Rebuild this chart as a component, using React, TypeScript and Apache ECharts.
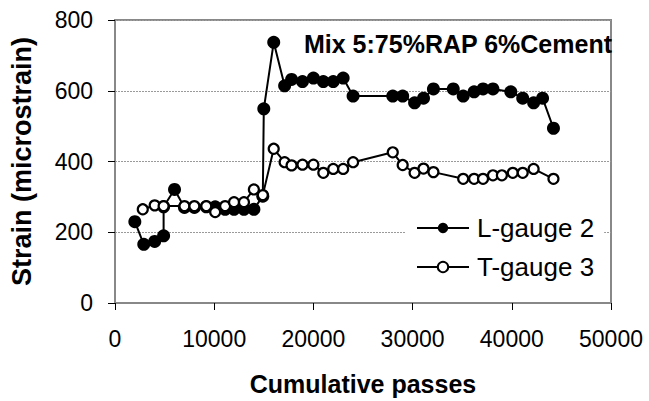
import React, { useEffect, useRef } from "react";
import * as echarts from "echarts";

// Cumulative passes vs strain, L-gauge 2 (filled) and T-gauge 3 (open)
const lGaugePasses = [
  2000, 2900, 4000, 4900, 4900, 6000, 7000, 8000, 9200, 10100, 11100, 12000, 13000, 14000,
  14900, 15000, 16000, 17100, 17800, 18900, 20000, 21000, 22000, 23000, 24000, 28000, 29000,
  30200, 31100, 32100, 34100, 35100, 36200, 37100, 38100, 39900, 41100, 42200, 43100, 44200,
];
const lGaugeStrain = [
  230, 166, 174, 190, 272, 321, 270, 270, 272, 272, 265, 265, 265, 265,
  302, 549, 737, 614, 632, 626, 636, 626, 626, 636, 585, 585, 585,
  566, 579, 605, 605, 585, 597, 605, 605, 597, 579, 566, 579, 494,
];

const tGaugePasses = [
  2800, 4000, 4900, 7000, 8000, 9200, 10100, 11100, 12000, 13000, 14000, 14900, 16000, 17100,
  17800, 18900, 20000, 21000, 22000, 23000, 24000, 28000, 29000, 30200, 31100, 32100, 35100,
  36200, 37100, 38100, 39000, 40100, 41100, 42200, 44200,
];
const tGaugeStrain = [
  265, 276, 274, 274, 274, 274, 257, 274, 285, 285, 321, 305, 436, 398,
  389, 391, 391, 368, 379, 379, 398, 426, 390, 368, 380, 370, 351,
  351, 351, 361, 361, 368, 368, 379, 351,
];

const xTicks = [0, 10000, 20000, 30000, 40000, 50000];
const yTicks = [0, 200, 400, 600, 800];

const FONT = "Liberation Sans, Arial, sans-serif";

export default function App() {
  const ref = useRef<HTMLDivElement>(null);

  useEffect(() => {
    if (!ref.current) return;
    const chart = echarts.init(ref.current, null, { renderer: "svg" });
    const pair = (xs: number[], ys: number[]) => xs.map((x, i) => [x, ys[i]]);

    chart.setOption({
      animation: false,
      backgroundColor: "#ffffff",
      textStyle: { fontFamily: FONT, color: "#000" },
      title: {
        text: "Mix 5:75%RAP 6%Cement",
        left: 304,
        top: 31,
        padding: 0,
        textStyle: { fontFamily: FONT, fontSize: 25, fontWeight: "bold", color: "#000" },
      },
      grid: {
        left: 113,
        top: 20,
        right: 38,
        bottom: 97,
        show: true,
        borderColor: "#888888",
        borderWidth: 2,
        backgroundColor: "transparent",
      },
      legend: {
        orient: "vertical",
        left: 406,
        top: 207,
        padding: [8, 10, 8, 10],
        backgroundColor: "#ffffff",
        itemWidth: 52,
        itemHeight: 13,
        itemGap: 13,
        textStyle: { fontFamily: FONT, fontSize: 26, color: "#000", padding: [0, 0, 0, 3] },
        data: ["L-gauge 2", "T-gauge 3"],
      },
      xAxis: {
        type: "value",
        min: xTicks[0],
        max: xTicks[xTicks.length - 1],
        interval: 10000,
        name: "Cumulative passes",
        nameLocation: "middle",
        nameGap: 68,
        nameTextStyle: { fontFamily: FONT, fontSize: 25, fontWeight: "bold", color: "#000" },
        axisLine: { show: true, lineStyle: { color: "#888888", width: 2 } },
        axisTick: { show: true, inside: false, length: 7, lineStyle: { color: "#000", width: 1 } },
        axisLabel: {
          fontFamily: FONT,
          fontSize: 23,
          color: "#000",
          margin: 24,
          formatter: (v: number) => String(v),
        },
        splitLine: { show: false },
      },
      yAxis: {
        type: "value",
        min: yTicks[0],
        max: yTicks[yTicks.length - 1],
        interval: 200,
        name: "Strain (microstrain)",
        nameLocation: "middle",
        nameGap: 80,
        nameTextStyle: { fontFamily: FONT, fontSize: 27, fontWeight: "bold", color: "#000" },
        axisLine: { show: true, lineStyle: { color: "#888888", width: 2 } },
        axisTick: { show: true, inside: false, length: 7, lineStyle: { color: "#000", width: 1 } },
        axisLabel: {
          fontFamily: FONT,
          fontSize: 23,
          color: "#000",
          margin: 22,
          formatter: (v: number) => String(v),
        },
        splitLine: { show: true, lineStyle: { color: "#9a9a9a", width: 1, type: [2, 1] } },
      },
      series: [
        {
          name: "L-gauge 2",
          type: "line",
          data: pair(lGaugePasses, lGaugeStrain),
          symbol: "circle",
          symbolSize: 13,
          showAllSymbol: true,
          lineStyle: { color: "#000", width: 2 },
          itemStyle: { color: "#000", borderWidth: 0 },
          z: 2,
        },
        {
          name: "T-gauge 3",
          type: "line",
          data: pair(tGaugePasses, tGaugeStrain),
          symbol: "circle",
          symbolSize: 10,
          showAllSymbol: true,
          lineStyle: { color: "#000", width: 2 },
          itemStyle: { color: "#fff", borderColor: "#000", borderWidth: 2.2 },
          z: 3,
        },
      ],
    });

    return () => chart.dispose();
  }, []);

  return <div ref={ref} style={{ width: 649, height: 401, position: "absolute", left: 0, top: 0 }} />;
}
